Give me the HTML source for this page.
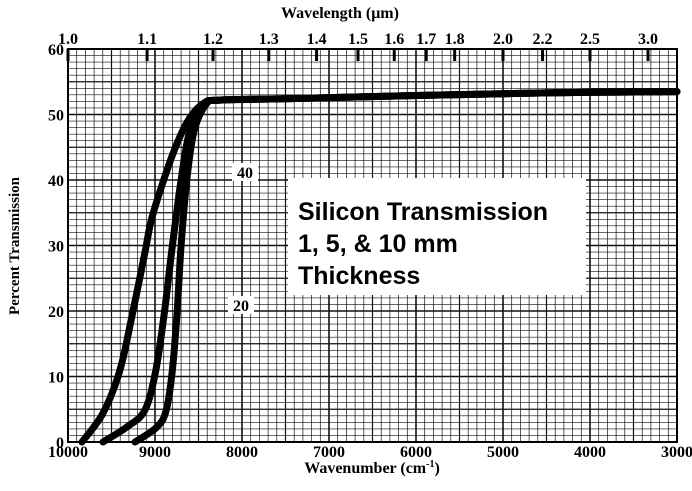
<!DOCTYPE html>
<html><head><meta charset="utf-8"><style>
body{margin:0;background:#fff;}
svg{display:block;font-family:"Liberation Serif",serif;font-weight:bold;}
</style></head><body>
<svg id="chart" width="692" height="491" viewBox="0 0 692 491">
<g id="grid"></g>
<g id="curves"></g>
<g id="axes"></g>
<rect x="288" y="178" width="298" height="117" fill="#fff"/>
<text x="298" y="220" font-family="Liberation Sans,sans-serif" font-size="25" font-weight="bold">Silicon Transmission</text>
<text x="298" y="252" font-family="Liberation Sans,sans-serif" font-size="25" font-weight="bold">1, 5, &amp; 10 mm</text>
<text x="298" y="284" font-family="Liberation Sans,sans-serif" font-size="25" font-weight="bold">Thickness</text>
<rect x="232" y="163" width="26" height="18" fill="#fff"/>
<text x="245" y="178" text-anchor="middle" font-size="16">40</text>
<rect x="228" y="296" width="26" height="18" fill="#fff"/>
<text x="241" y="311" text-anchor="middle" font-size="16">20</text>
<text x="340" y="18" text-anchor="middle" font-size="16">Wavelength (μm)</text>
<text x="372" y="473" text-anchor="middle" font-size="16">Wavenumber (cm<tspan font-size="10" dy="-6">-1</tspan><tspan dy="6">)</tspan></text>
<text transform="translate(19,246) rotate(-90)" text-anchor="middle" font-size="15">Percent Transmission</text>
</svg>
<script>
const wnTicks=[10000,9000,8000,7000,6000,5000,4000,3000];
const yTicks=[0,10,20,30,40,50,60];
const wlTicks=[1.0,1.1,1.2,1.3,1.4,1.5,1.6,1.7,1.8,2.0,2.2,2.5,3.0];
const plateau=[[8250,52.2],[7500,52.4],[6000,52.9],[4500,53.3],[3000,53.5]];
const curve1mm=[[9839,0],[9598,4.4],[9402,11],[9253,20],[9115,29],[9040,34],[8900,40],[8750,45.5],[8600,49.5],[8430,51.8]];
const curve5mm=[[9598,0],[9322,2.3],[9115,4.9],[8990,11],[8890,20],[8800,30],[8700,40],[8600,47.5],[8440,51.6]];
const curve10mm=[[9230,0],[8977,2.3],[8870,4.9],[8800,11],[8745,20],[8700,30],[8635,40],[8550,47.5],[8410,51.6]];
const NS="http://www.w3.org/2000/svg";
const X=w=>68+(10000-w)*0.087;
const Y=v=>442-v*6.55;
function mk(p,t,a){const e=document.createElementNS(NS,t);for(const k in a)e.setAttribute(k,a[k]);p.appendChild(e);return e;}
function smooth(P){let d='M'+P[0][0].toFixed(1)+','+P[0][1].toFixed(1);
for(let i=0;i<P.length-1;i++){const p0=P[Math.max(i-1,0)],p1=P[i],p2=P[i+1],p3=P[Math.min(i+2,P.length-1)];
const c1=[p1[0]+(p2[0]-p0[0])/6,p1[1]+(p2[1]-p0[1])/6],c2=[p2[0]-(p3[0]-p1[0])/6,p2[1]-(p3[1]-p1[1])/6];
d+=' C'+c1.map(v=>v.toFixed(1))+' '+c2.map(v=>v.toFixed(1))+' '+p2.map(v=>v.toFixed(1));}return d;}
const grid=document.getElementById('grid'),axes=document.getElementById('axes'),cv=document.getElementById('curves');
for(let w=10000;w>=3000;w-=100){const h=w%1000===0?1.6:(w%500===0?1.2:0.7);
const l=mk(grid,'line',{x1:X(w),x2:X(w),y1:Y(60),y2:Y(0),stroke:'#111','stroke-width':h});
}
for(let v=0;v<=60;v++){const h=v%10===0?1.6:(v%5===0?1.2:0.6);
const l=mk(grid,'line',{x1:X(10000),x2:X(3000),y1:Y(v),y2:Y(v),stroke:'#111','stroke-width':h});
}
const fr=mk(axes,'rect',{x:X(10000),y:Y(60),width:X(3000)-X(10000),height:Y(0)-Y(60),fill:'none',stroke:'#000','stroke-width':2});

wnTicks.forEach(w=>{const t=mk(axes,'text',{x:X(w),y:457,'text-anchor':'middle','font-size':16});t.textContent=w;
});
yTicks.forEach(v=>{const t=mk(axes,'text',{x:64,y:Y(v)+6,'text-anchor':'end','font-size':16});t.textContent=v;
});
wlTicks.forEach(l=>{const x=X(10000/l);
const t=mk(axes,'text',{x:x,y:44,'text-anchor':'middle','font-size':16});t.textContent=l.toFixed(1);

const m=mk(axes,'line',{x1:x,x2:x,y1:Y(60),y2:Y(60)+12,stroke:'#000','stroke-width':3});
});
[['curve-1mm',curve1mm],['curve-5mm',curve5mm],['curve-10mm',curve10mm]].forEach(([n,d])=>{
const P=d.concat(plateau).map(p=>[X(p[0]),Y(p[1])]);
const pl=mk(cv,'path',{d:smooth(P),fill:'none',stroke:'#000','stroke-width':7,'stroke-linejoin':'round','stroke-linecap':'round'});
});
</script>
</body></html>
